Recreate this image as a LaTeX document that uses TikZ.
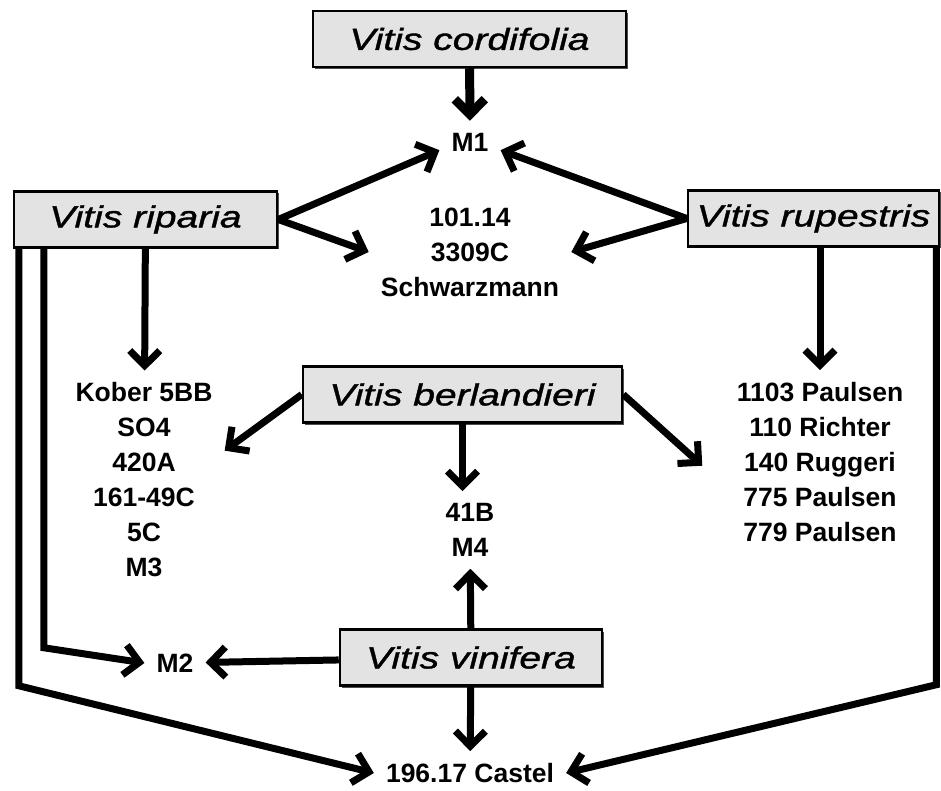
\documentclass[tikz,border=0pt]{standalone}
\usepackage{fontspec}
\setmainfont{Liberation Sans}
\newfontfamily\spfont[FakeStretch=1.28,FakeBold=1.2]{Liberation Sans}
\usetikzlibrary{arrows.meta,positioning,shadows,calc}

\begin{document}
\begin{tikzpicture}[x=1pt,y=-1pt,
    sp/.style={draw,line width=2.5pt,fill=gray!22,inner sep=0pt,minimum height=56pt,
      font=\spfont\itshape\fontsize{30.5}{34}\selectfont,
      drop shadow={shadow xshift=2pt,shadow yshift=-2pt,fill=black,opacity=.7}},
    cv/.style={font=\bfseries\fontsize{26.5}{35}\selectfont,align=center,inner sep=12pt},
    ar/.style={line width=7pt,-{Straight Barb[length=15pt,width=30pt]}},
    ln/.style={line width=7pt}]
 \useasboundingbox (0,0) rectangle (941,791);
 \node[sp,minimum width=313pt] (cord) at (469.5,39) {Vitis cordifolia};
 \node[sp,minimum width=263pt] (ripa) at (145.5,219.5) {Vitis riparia};
 \node[sp,minimum width=251pt] (rupe) at (813.5,218.5) {Vitis rupestris};
 \node[sp,minimum width=319pt] (berl) at (462.5,394.5) {Vitis berlandieri};
 \node[sp,minimum width=262pt] (vini) at (471,657.5) {Vitis vinifera};
 \node[cv] (M1) at (470,142) {M1};
 \node[cv] (schw) at (470,252) {101.14\\3309C\\Schwarzmann};
 \node[cv] (kober) at (144,480) {Kober 5BB\\SO4\\420A\\161-49C\\5C\\M3};
 \node[cv] (paul) at (820,462) {1103 Paulsen\\110 Richter\\140 Ruggeri\\775 Paulsen\\779 Paulsen};
 \node[cv] (b41) at (470,530) {41B\\M4};
 \node[cv] (M2) at (175,663) {M2};
 \node[cv] (castel) at (470,773) {196.17 Castel};
 \draw[ar,line width=9pt] (cord) -- (M1);
 \path[ar] foreach \X in {M1.195,schw.west} {(ripa.east) edge (\X)};
 \path[ar] foreach \X in {M1.-15,schw.east} {(rupe.west) edge (\X)};
 \draw[ar] (ripa) -- (kober);
 \draw[ar] (rupe.south -| paul) -- (paul);
 \draw[ar] (berl.west) -- (kober.20);
 \draw[ar,shorten >=30pt] (berl.east) -- (paul.194);
 \draw[ar] (berl) -- (berl |- b41.north);
 \draw[ar] (vini) -- (b41);
 \draw[ar] (vini) -- (M2);
 \draw[ar] (vini) -- (castel);
 \draw[ar,line join=miter] ([xshift=31pt]ripa.south west) -- ++(0,399) -- (M2.west);
 \draw[ar,line join=miter] ([xshift=6pt]ripa.south west) -- ++(0,437) -- (castel.west);
 \draw[ar,line join=miter] ([xshift=-4pt]rupe.south east) -- ++(0,437) -- (castel.east);
\end{tikzpicture}
\end{document}
